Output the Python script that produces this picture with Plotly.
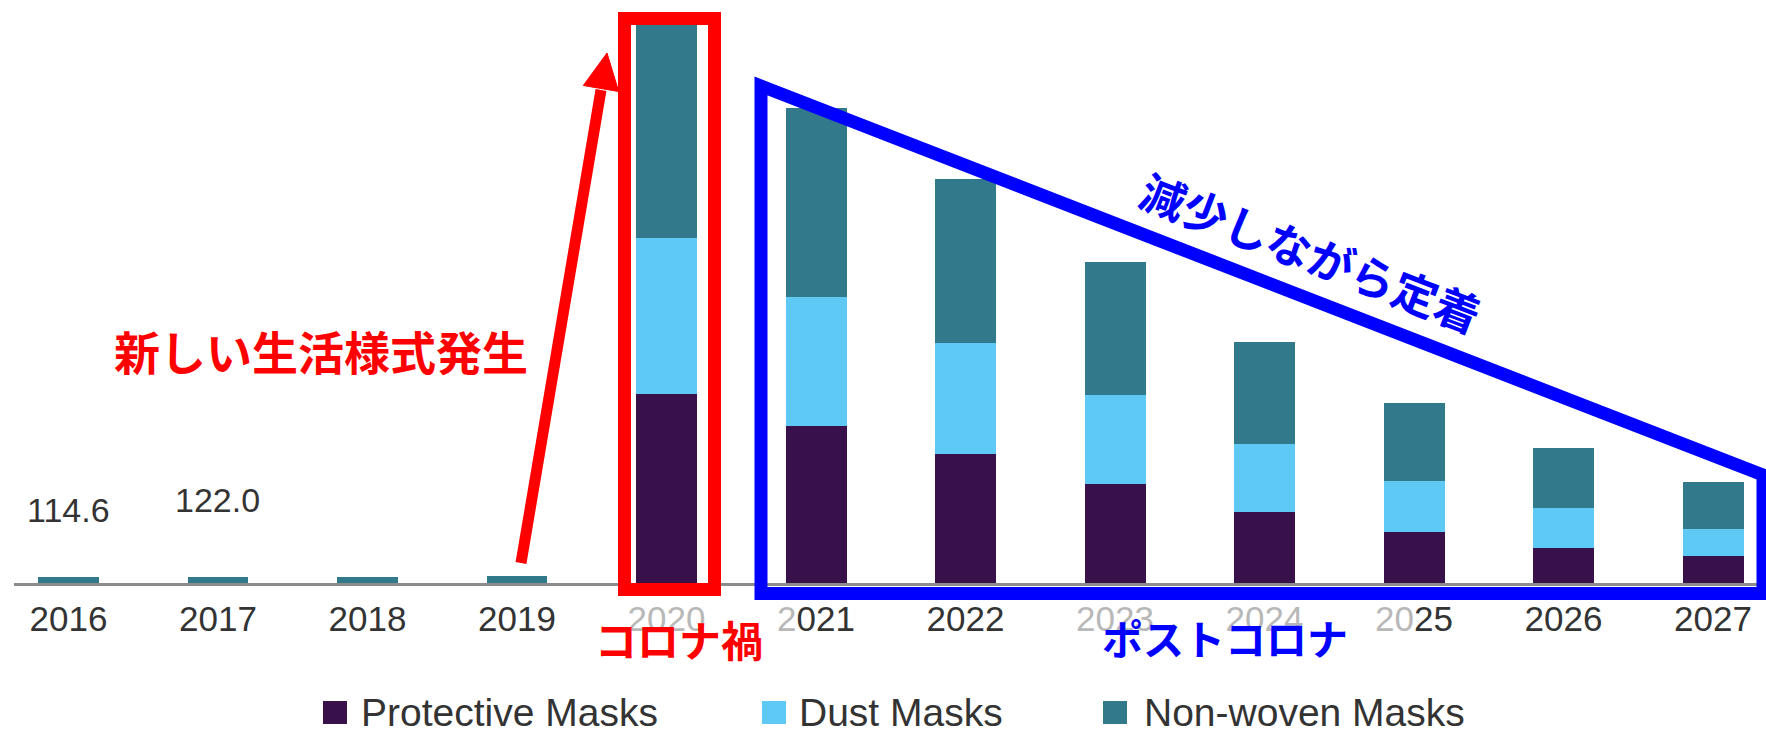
import plotly.graph_objects as go

# Mask market by product type
years = ["2016", "2017", "2018", "2019", "2020", "2021",
         "2022", "2023", "2024", "2025", "2026", "2027"]
protective = [0, 0, 0, 0, 3780, 3150, 2580, 1980, 1430, 1030, 710, 540]
dust = [0, 0, 0, 0, 3120, 2570, 2230, 1790, 1355, 1010, 795, 545]
nonwoven = [114.6, 122.0, 128.0, 135.0, 4260, 3780, 3270, 2660, 2045, 1570, 1195, 945]
labelled_years = ["2016", "2017"]

series_names = ["Protective Masks", "Dust Masks", "Non-woven Masks"]
series_colors = ["#38114a", "#5ec9f5", "#32798b"]

W, H = 1766, 731
ML, MR, MT, MB = 14, 0, 10, 148
PW, PH = W - ML - MR, H - MT - MB
Y_MAX = 11460
BASE = MT + PH  # pixel row of the baseline


def fx(x):
    return (x - ML) / PW


def fy(y):
    return (BASE - y) / PH


TXT = "#333333"
LAT = "Liberation Sans, Arial, sans-serif"
JP = "Noto Sans CJK JP, sans-serif"

fig = go.Figure()
for name, vals, col in zip(series_names, [protective, dust, nonwoven], series_colors):
    fig.add_trace(go.Bar(x=years, y=vals, name=name, marker_color=col,
                         marker_line_width=0, width=0.408, showlegend=False))

# tick labels, some partly washed out
light = "#b8b8b8"
tick_text = [
    "2016", "2017", "2018", "2019",
    f"<span style='color:{light}'>2020</span>",
    f"<span style='color:{light}'>2</span>021",
    "2022",
    f"<span style='color:{light}'>2023</span>",
    f"<span style='color:{light}'>2024</span>",
    f"<span style='color:{light}'>20</span>25",
    "2026", "2027",
]

fig.update_layout(
    width=W, height=H, autosize=False,
    margin=dict(l=ML, r=MR, t=MT, b=MB, pad=0),
    paper_bgcolor="white", plot_bgcolor="white",
    barmode="stack",
    xaxis=dict(type="category", range=[-0.3645, 11.3545],
               tickmode="array", tickvals=years, ticktext=tick_text,
               tickfont=dict(family=LAT, size=35, color=TXT),
               ticklabelstandoff=3,
               showline=True, linecolor="#8c8c8c", linewidth=3,
               ticks="", showgrid=False, zeroline=False),
    yaxis=dict(visible=False, range=[0, Y_MAX]),
)

# totals above the early bars
totals = [p + d + n for p, d, n in zip(protective, dust, nonwoven)]
label_lift = {"2016": 67, "2017": 77}
for yr in labelled_years:
    i = years.index(yr)
    fig.add_annotation(x=i, y=totals[i], xref="x", yref="y",
                       text=f"{totals[i]:.1f}", showarrow=False,
                       xanchor="center", yanchor="middle", yshift=label_lift[yr],
                       font=dict(family=LAT, size=34, color=TXT))

# hand-made legend with large swatches
sw_left = [323, 762, 1103]
tx_left = [359, 797, 1142]
for name, col, sx, tx in zip(series_names, series_colors, sw_left, tx_left):
    fig.add_shape(type="rect", xref="paper", yref="paper",
                  x0=fx(sx), x1=fx(sx + 24), y0=fy(724), y1=fy(701),
                  fillcolor=col, line_width=0)
    fig.add_annotation(x=fx(tx), y=fy(712.5), xref="paper", yref="paper",
                       text=name, showarrow=False, xanchor="left", yanchor="middle",
                       font=dict(family=LAT, size=39, color=TXT))

RED = "#ff0000"
BLUE = "#0000ff"

# red frame around the 2020 bar
fig.add_shape(type="rect", xref="paper", yref="paper",
              x0=fx(624.5), x1=fx(714.5), y0=fy(589.5), y1=fy(18.5),
              line=dict(color=RED, width=13), fillcolor="rgba(0,0,0,0)")

# red rising arrow
x_tail, y_tail = 521, 563
x_tip, y_tip = 607, 53
fig.add_shape(type="line", xref="paper", yref="paper",
              x0=fx(x_tail), y0=fy(y_tail), x1=fx(601), y1=fy(90),
              line=dict(color=RED, width=11))
fig.add_shape(type="path", xref="paper", yref="paper",
              path=(f"M{fx(x_tip)},{fy(y_tip)} L{fx(618.7)},{fy(91.5)} "
                    f"L{fx(583.3)},{fy(85.5)} Z"),
              fillcolor=RED, line=dict(color=RED, width=1))

# blue wedge around the post-2020 bars
fig.add_shape(type="path", xref="paper", yref="paper",
              path=(f"M{fx(761)},{fy(86)} L{fx(761)},{fy(593.5)} "
                    f"L{fx(1763)},{fy(593.5)} L{fx(1763)},{fy(475)} Z"),
              line=dict(color=BLUE, width=13), fillcolor="rgba(0,0,0,0)")

# callout texts
callouts = [
    ("新しい生活様式発生", 321, 350, 46, RED, 0),
    ("コロナ禍", 679, 638, 42, RED, 0),
    ("ポストコロナ", 1225, 637, 41, BLUE, 0),
    ("減少しながら定着", 1311, 252, 45, BLUE, 21),
]
for text, cx, cy, size, col, ang in callouts:
    fig.add_annotation(x=fx(cx), y=fy(cy), xref="paper", yref="paper",
                       text=f"<b>{text}</b>", showarrow=False, textangle=ang,
                       xanchor="center", yanchor="middle",
                       font=dict(family=JP, size=size, color=col))

fig.write_html("out.html", config={"displayModeBar": False})
